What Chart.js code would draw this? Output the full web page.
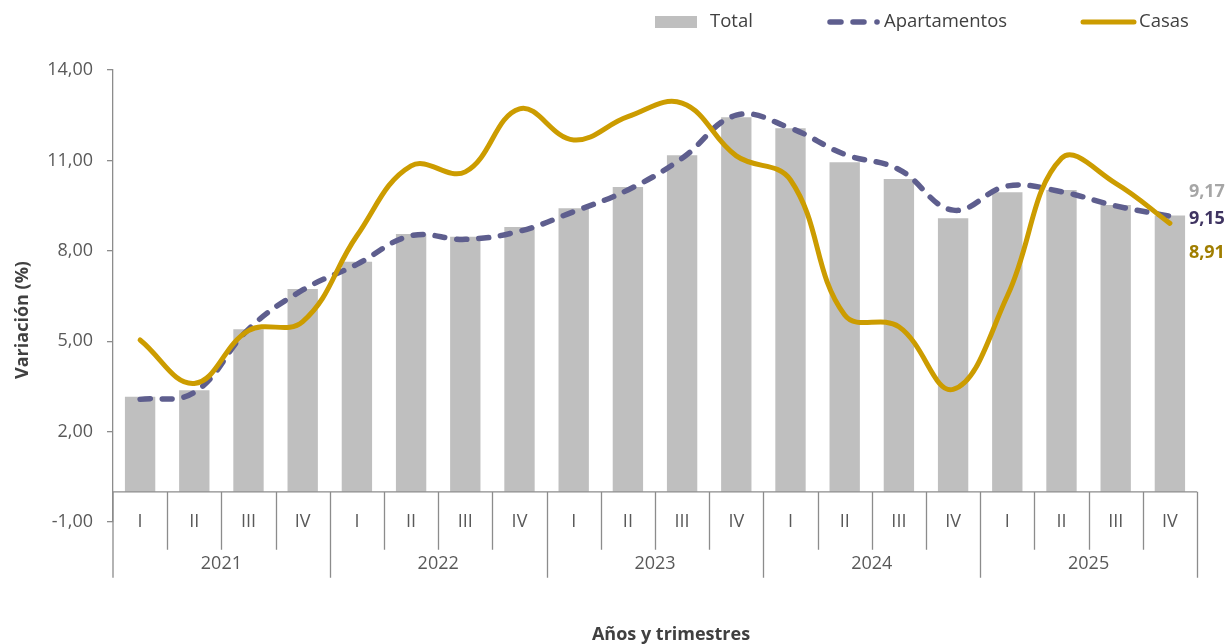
<!DOCTYPE html>
<html><head><meta charset="utf-8">
<script src="https://cdn.jsdelivr.net/npm/chart.js@4.4.0/dist/chart.umd.min.js"></script>
<style>html,body{margin:0;padding:0;background:#fff}#wrap{width:1230px;height:644px}</style>
</head><body><div id="wrap"><canvas id="c" width="1230" height="644"></canvas></div>
<script>
const quarters = ['I','II','III','IV'];
const years = ['2021','2022','2023','2024','2025'];
const total = [3.16,3.37,5.40,6.73, 7.64,8.56,8.47,8.79, 9.41,10.12,11.17,12.43, 12.07,10.94,10.38,9.08, 9.94,10.02,9.52,9.17];
const apartamentos = [3.07,3.30,5.40,6.70, 7.55,8.50,8.38,8.65, 9.30,10.02,11.07,12.50, 12.07,11.20,10.70,9.35, 10.15,9.96,9.49,9.15];
const casas = [5.04,3.60,5.35,5.65, 8.50,10.82,10.62,12.71, 11.68,12.45,12.90,11.15, 10.35,5.87,5.48,3.40, 6.50,11.07,10.24,8.91];
const yTicks = [-1,2,5,8,11,14];
const seriesNames = ['Total','Apartamentos','Casas'];
const xTitle = 'Años y trimestres';
const yTitle = 'Variación (%)';

const labels = [];
years.forEach(y => quarters.forEach(q => labels.push(y + ' ' + q)));

const FONT = '"Open Sans", "Noto Sans", sans-serif';
const fmt = v => v.toFixed(2).replace('.', ',');
const C_BAR = '#BFBFBF', C_APT = '#5E5E8E', C_CAS = '#CC9C00';
const AXIS = '#8C8C8C';

const tablePlugin = {
  id: 'table',
  afterDraw(chart) {
    const ctx = chart.ctx, x = chart.scales.x, y = chart.scales.y, a = chart.chartArea;
    const y0 = y.getPixelForValue(0);
    const n = labels.length;
    const w = (a.right - a.left) / n;
    ctx.save();
    ctx.strokeStyle = AXIS; ctx.lineWidth = 1.3;
    ctx.beginPath();
    ctx.moveTo(a.left, y0); ctx.lineTo(a.right, y0);
    ctx.moveTo(a.left, a.bottom); ctx.lineTo(a.left, y0 + 86);
    for (let i = 1; i <= n; i++) {
      const px = Math.round(a.left + i * w) + 0.5;
      ctx.moveTo(px, y0);
      ctx.lineTo(px, (i % 4 === 0) ? y0 + 86 : y0 + 58);
    }
    ctx.moveTo(a.left, y0); ctx.lineTo(a.left, y0 + 86);
    ctx.stroke();
    ctx.fillStyle = '#595959';
    ctx.font = '18px ' + FONT;
    ctx.textAlign = 'center'; ctx.textBaseline = 'middle';
    labels.forEach((l, i) => {
      ctx.fillText(quarters[i % 4], x.getPixelForValue(i), y0 + 30);
    });
    years.forEach((yr, j) => {
      const cx = (x.getPixelForValue(j * 4) + x.getPixelForValue(j * 4 + 3)) / 2;
      ctx.fillText(yr, cx, y0 + 72);
    });
    // axis titles
    ctx.fillStyle = '#404040';
    ctx.font = 'bold 18px ' + FONT;
    ctx.fillText(xTitle, 671, 635);
    ctx.save();
    ctx.translate(23, 320); ctx.rotate(-Math.PI / 2);
    ctx.fillText(yTitle, 0, 0);
    ctx.restore();
    // legend
    ctx.font = '18.5px ' + FONT;
    ctx.textAlign = 'left';
    ctx.fillStyle = C_BAR;
    ctx.fillRect(655, 16, 42, 12);
    ctx.fillStyle = '#404040';
    ctx.fillText(seriesNames[0], 710, 22);
    ctx.strokeStyle = C_APT; ctx.lineWidth = 5.5; ctx.lineCap = 'round';
    ctx.beginPath();
    ctx.moveTo(830, 22); ctx.lineTo(841, 22);
    ctx.moveTo(853, 22); ctx.lineTo(864, 22);
    ctx.stroke();
    ctx.fillStyle = C_APT;
    ctx.beginPath(); ctx.arc(877, 22, 2.8, 0, Math.PI * 2); ctx.fill();
    ctx.fillStyle = '#404040';
    ctx.fillText(seriesNames[1], 884, 22);
    ctx.strokeStyle = C_CAS; ctx.lineWidth = 5;
    ctx.beginPath(); ctx.moveTo(1083, 22); ctx.lineTo(1134, 22); ctx.stroke();
    ctx.fillText(seriesNames[2], 1139, 22);
    ctx.restore();
  },
  afterDatasetsDraw(chart) {
    const ctx = chart.ctx, x = chart.scales.x, y = chart.scales.y;
    const i = labels.length - 1;
    const px = x.getPixelForValue(i) + 19;
    ctx.save();
    ctx.font = 'bold 18px ' + FONT;
    ctx.textAlign = 'left'; ctx.textBaseline = 'middle';
    ctx.fillStyle = '#A6A6A6';
    ctx.fillText(fmt(total[i]), px, y.getPixelForValue(total[i]) - 24);
    ctx.fillStyle = '#3F3461';
    ctx.fillText(fmt(apartamentos[i]), px, y.getPixelForValue(apartamentos[i]) + 3);
    ctx.fillStyle = '#A07E00';
    ctx.fillText(fmt(casas[i]), px, y.getPixelForValue(casas[i]) + 29);
    ctx.restore();
  }
};

new Chart(document.getElementById('c'), {
  type: 'bar',
  data: {
    labels: labels,
    datasets: [
      { type: 'bar', label: seriesNames[0], data: total, backgroundColor: C_BAR, borderWidth: 0,
        barPercentage: 0.56, categoryPercentage: 1, order: 3 },
      { type: 'line', label: seriesNames[1], data: apartamentos, borderColor: C_APT, borderWidth: 5.5,
        borderDash: [10, 12], borderCapStyle: 'round', pointRadius: 0, tension: 0.4, fill: false, order: 2 },
      { type: 'line', label: seriesNames[2], data: casas, borderColor: C_CAS, borderWidth: 5,
        borderCapStyle: 'round', pointRadius: 0, tension: 0.4, fill: false, order: 1 }
    ]
  },
  options: {
    responsive: false, animation: false, devicePixelRatio: 1,
    layout: { padding: { top: 70, right: 33, bottom: 122, left: 0 } },
    plugins: { legend: { display: false }, tooltip: { enabled: false } },
    scales: {
      x: { display: false, offset: true },
      y: {
        min: -1, max: 14,
        afterBuildTicks: s => { s.ticks = yTicks.map(v => ({ value: v })); },
        afterFit: s => { s.width = 113; },
        ticks: { callback: v => fmt(v), color: '#595959', font: { size: 18, family: FONT }, padding: 14 },
        grid: { drawOnChartArea: false, drawTicks: true, tickLength: 6, color: AXIS, lineWidth: 1.3 },
        border: { display: true, color: AXIS, width: 1.3 }
      }
    }
  },
  plugins: [tablePlugin]
});
</script>
</body></html>
